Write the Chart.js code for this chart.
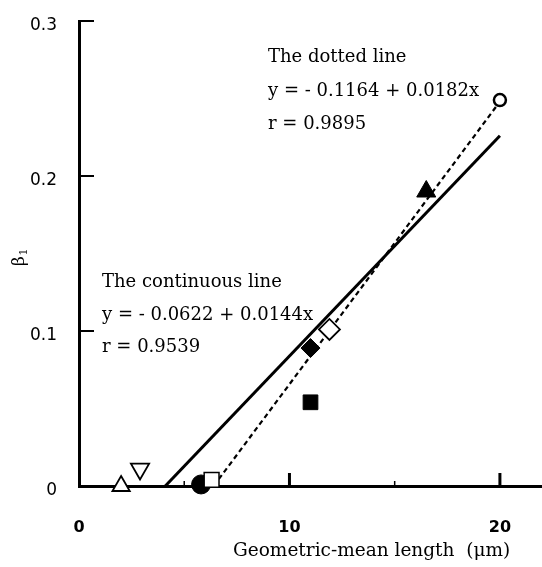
<!DOCTYPE html>
<html>
<head>
<meta charset="utf-8">
<script src="https://cdn.jsdelivr.net/npm/chart.js@4.4.1/dist/chart.umd.min.js"></script>
<style>
  body { margin: 0; background: #fff; }
  canvas { display: block; }
</style>
</head>
<body>
<canvas id="beta-chart" width="542" height="567"></canvas>
<script>
pointX = [2.0, 2.9, 5.8, 6.3, 11.0, 11.9, 11.0, 16.5, 20.0];
pointY = [0.0, 0.011, 0.001, 0.004, 0.089, 0.101, 0.054, 0.190, 0.249];

// regression lines, end points
solidX = [4.1, 20.0];
solidY = [0.0, 0.226];
dottedX = [6.4, 20.0];
dottedY = [0.0, 0.248];

xTicks = [0, 10, 20];
xMinorTicks = [5, 15];
yTicks = [0, 0.1, 0.2, 0.3];
yTickLabels = ["0", "0.1", "0.2", "0.3"];

dottedText = ["The dotted line", "y = - 0.1164 + 0.0182x", "r = 0.9895"];
solidText = ["The continuous line", "y = - 0.0622 + 0.0144x", "r = 0.9539"];

// one marker look per point, same order as pointX
markerStyle = ["triangle", "triangle", "circle", "rect", "rectRot", "rectRot", "rect", "triangle", "circle"];
markerRot = [0, 180, 0, 0, 0, 0, 0, 0, 0];
markerSize = [10, 10.5, 9.5, 10.5, 9.5, 10.5, 10.4, 11, 6];
markerFill = ["#fff", "#fff", "#000", "#fff", "#000", "#fff", "#000", "#000", "#fff"];
markerLine = [1.8, 1.8, 1, 1.5, 1, 1.8, 1, 1, 2.5];

points = [];
for (var i = 0; i < pointX.length; i++) {
    points.push({x: pointX[i], y: pointY[i]});
}
function toXY(xs, ys) {
    var out = [];
    for (var i = 0; i < xs.length; i++) out.push({x: xs[i], y: ys[i]});
    return out;
}

const serif = "'DejaVu Serif', serif";
const sans = "'DejaVu Sans', sans-serif";

// inward ticks, y labels (sit a bit low in the original) + the free text
const extras = {
    id: "extras",
    afterDraw(chart) {
        const ctx = chart.ctx;
        const xs = chart.scales.x, ys = chart.scales.y;
        const area = chart.chartArea;
        ctx.save();
        ctx.strokeStyle = "#000";
        ctx.lineWidth = 3;
        xTicks.forEach(function (v) {
            const px = xs.getPixelForValue(v);
            if (v === 0) return;
            ctx.beginPath(); ctx.moveTo(px, area.bottom); ctx.lineTo(px, area.bottom - 13); ctx.stroke();
        });
        ctx.lineWidth = 1.5;
        xMinorTicks.forEach(function (v) {
            const px = xs.getPixelForValue(v);
            ctx.beginPath(); ctx.moveTo(px, area.bottom); ctx.lineTo(px, area.bottom - 5); ctx.stroke();
        });
        ctx.lineWidth = 2;
        yTicks.forEach(function (v) {
            if (v === 0) return;
            const py = ys.getPixelForValue(v);
            ctx.beginPath(); ctx.moveTo(area.left, py); ctx.lineTo(area.left + 15, py); ctx.stroke();
        });

        ctx.fillStyle = "#000";
        ctx.font = "17px " + sans;
        ctx.textAlign = "right";
        ctx.textBaseline = "middle";
        yTicks.forEach(function (v, i) {
            ctx.fillText(yTickLabels[i], area.left - 22, ys.getPixelForValue(v) + 5);
        });

        ctx.font = "18px " + serif;
        ctx.textAlign = "left";
        [57, 91, 124].forEach(function (y, i) { ctx.fillText(dottedText[i], 268, y); });
        [282, 315, 347].forEach(function (y, i) { ctx.fillText(solidText[i], 102, y); });

        // axis titles
        ctx.font = "18.5px " + serif;
        ctx.fillText("Geometric-mean length  (\u03bcm)", 233, 551);
        ctx.translate(20, 258);
        ctx.rotate(-Math.PI / 2);
        ctx.textAlign = "center";
        ctx.font = "17px " + serif;
        ctx.fillText("\u03b2", -3, 0);
        ctx.font = "11px " + serif;
        ctx.fillText("1", 6, 4);
        ctx.restore();
    }
};

new Chart("beta-chart", {
    type: "scatter",
    data: {
        datasets: [
            {
                label: "points",
                data: points,
                clip: false,
                pointStyle: markerStyle,
                rotation: markerRot,
                pointRadius: markerSize,
                pointBackgroundColor: markerFill,
                pointBorderColor: "#000",
                pointBorderWidth: markerLine,
                showLine: false
            },
            {
                label: "continuous",
                data: toXY(solidX, solidY),
                showLine: true,
                borderColor: "#000",
                borderWidth: 3,
                pointRadius: 0
            },
            {
                label: "dotted",
                data: toXY(dottedX, dottedY),
                showLine: true,
                borderColor: "#000",
                borderWidth: 2.2,
                borderDash: [5, 3.5],
                pointRadius: 0
            }
        ]
    },
    options: {
        responsive: false,
        animation: false,
        layout: {autoPadding: false, padding: {top: 21, right: 0, left: 0, bottom: 0}},
        plugins: {legend: {display: false}, tooltip: {enabled: false}},
        scales: {
            x: {
                type: "linear",
                min: 0,
                max: 22,
                afterFit: function (s) { s.height = 81; s.paddingLeft = 0; s.paddingRight = 0; },
                afterBuildTicks: function (s) { s.ticks = xTicks.map(function (v) { return {value: v}; }); },
                grid: {display: false, drawTicks: false},
                border: {display: true, color: "#000", width: 3},
                ticks: {color: "#000", font: {family: sans, size: 16, weight: "bold"}, padding: 32, maxRotation: 0}
            },
            y: {
                min: 0,
                max: 0.3,
                afterFit: function (s) { s.width = 79; s.paddingTop = 0; s.paddingBottom = 0; },
                afterBuildTicks: function (s) { s.ticks = yTicks.map(function (v) { return {value: v}; }); },
                grid: {display: false, drawTicks: false},
                border: {display: true, color: "#000", width: 3},
                ticks: {display: false}
            }
        }
    },
    plugins: [extras]
});
</script>
</body>
</html>
